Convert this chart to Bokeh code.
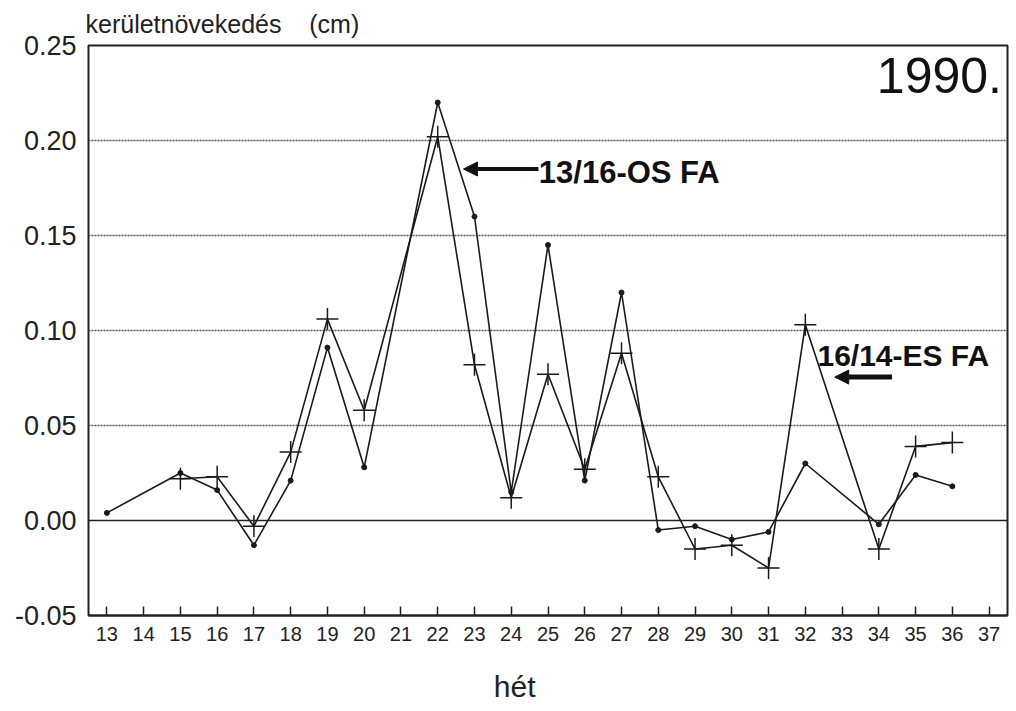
from bokeh.plotting import figure
from bokeh.models import (Range1d, FixedTicker, Label, Arrow, NormalHead, Span)
from bokeh.embed import file_html
from bokeh.resources import INLINE

# 13/16-OS FA (dots)
weeks_a = [13, 15, 16, 17, 18, 19, 20, 22, 23, 24, 25, 26, 27, 28, 29, 30, 31, 32, 34, 35, 36]
vals_a = [0.004, 0.025, 0.016, -0.013, 0.021, 0.091, 0.028, 0.220, 0.160, 0.015, 0.145, 0.021,
          0.120, -0.005, -0.003, -0.010, -0.006, 0.030, -0.002, 0.024, 0.018]
# 16/14-ES FA (plus markers)
weeks_b = [15, 16, 17, 18, 19, 20, 22, 23, 24, 25, 26, 27, 28, 29, 30, 31, 32, 34, 35, 36]
vals_b = [0.022, 0.023, -0.003, 0.036, 0.106, 0.058, 0.202, 0.082, 0.012, 0.077, 0.027,
          0.088, 0.023, -0.015, -0.013, -0.025, 0.103, -0.015, 0.039, 0.041]

x_ticks = list(range(13, 38))
y_ticks = [-0.05, 0.0, 0.05, 0.10, 0.15, 0.20, 0.25]
y_tick_labels = {-0.05: "-0.05", 0.0: "0.00", 0.05: "0.05", 0.10: "0.10",
                 0.15: "0.15", 0.20: "0.20", 0.25: "0.25"}

FONT = "Liberation Sans"

p = figure(width=1016, height=711, output_backend="svg", toolbar_location=None,
           x_range=Range1d(12.5, 37.5), y_range=Range1d(-0.05, 0.25),
           min_border_left=88, min_border_right=9, min_border_top=45, min_border_bottom=96)
p.background_fill_color = "white"
p.border_fill_color = "white"
p.outline_line_color = "#222222"
p.outline_line_width = 2

# y-axis title placed as the figure title (top left)
p.title.text = "kerületnövekedés\u00a0\u00a0\u00a0\u00a0(cm)"
p.title.align = "left"
p.title.text_font = FONT
p.title.text_font_style = "normal"
p.title.text_font_size = "25px"
p.title.text_color = "#222222"
p.title.offset = -3
p.title.standoff = 15

# axes
p.xaxis.ticker = FixedTicker(ticks=x_ticks)
p.xaxis.major_tick_in = 9
p.xaxis.major_tick_out = 0
p.xaxis.minor_tick_line_color = None
p.xaxis.major_tick_line_color = "#222222"
p.xaxis.major_tick_line_width = 1.5
p.xaxis.axis_line_color = "#222222"
p.xaxis.axis_line_width = 2
p.xaxis.major_label_text_font = FONT
p.xaxis.major_label_text_font_size = "20px"
p.xaxis.major_label_text_color = "#222222"
p.xaxis.major_label_standoff = 11
p.xaxis.axis_label = "hét" + "\u00a0" * 8
p.xaxis.axis_label_text_font = FONT
p.xaxis.axis_label_text_font_style = "normal"
p.xaxis.axis_label_text_font_size = "30px"
p.xaxis.axis_label_text_color = "#222222"
p.xaxis.axis_label_standoff = 26

p.yaxis.ticker = FixedTicker(ticks=y_ticks)
p.yaxis.major_label_overrides = y_tick_labels
p.yaxis.major_tick_in = 0
p.yaxis.major_tick_out = 0
p.yaxis.minor_tick_line_color = None
p.yaxis.axis_line_color = None
p.yaxis.major_label_text_font = FONT
p.yaxis.major_label_text_font_size = "27px"
p.yaxis.major_label_text_color = "#222222"
p.yaxis.major_label_standoff = 12

p.xgrid.grid_line_color = None
p.ygrid.ticker = FixedTicker(ticks=[0.05, 0.10, 0.15, 0.20])
p.ygrid.grid_line_color = "#555555"
p.ygrid.grid_line_dash = "2 1"
p.ygrid.grid_line_width = 1.3

p.add_layout(Span(location=0.0, dimension="width", line_color="#222222", line_width=1.5))

# series
p.line(weeks_a, vals_a, line_color="#1a1a1a", line_width=1.6)
p.scatter(weeks_a, vals_a, marker="circle", size=5, fill_color="#1a1a1a", line_color="#1a1a1a")
p.line(weeks_b, vals_b, line_color="#1a1a1a", line_width=1.6)
p.scatter(weeks_b, vals_b, marker="cross", size=22, line_color="#1a1a1a", line_width=1.5)

# texts
p.add_layout(Label(x=37.35, y=0.234, text="1990.", text_font=FONT, text_font_size="50px",
                   text_color="#111111", text_baseline="middle", text_align="right"))
p.add_layout(Label(x=24.75, y=0.183, text="13/16-OS FA", text_font=FONT, text_font_size="31px",
                   text_font_style="bold", text_color="#111111", text_baseline="middle",
                   text_align="left"))
p.add_layout(Label(x=32.33, y=0.0868, text="16/14-ES FA", text_font=FONT, text_font_size="30px",
                   text_font_style="bold", text_color="#111111", text_baseline="middle",
                   text_align="left"))
p.add_layout(Arrow(end=NormalHead(size=14, fill_color="#111111", line_color="#111111"),
                   x_start=24.74, y_start=0.185, x_end=22.7, y_end=0.185,
                   line_width=4, line_color="#111111"))
p.add_layout(Arrow(end=NormalHead(size=14, fill_color="#111111", line_color="#111111"),
                   x_start=34.36, y_start=0.0755, x_end=32.8, y_end=0.0755,
                   line_width=5, line_color="#111111"))

open("out.html", "w").write(file_html(p, INLINE))
